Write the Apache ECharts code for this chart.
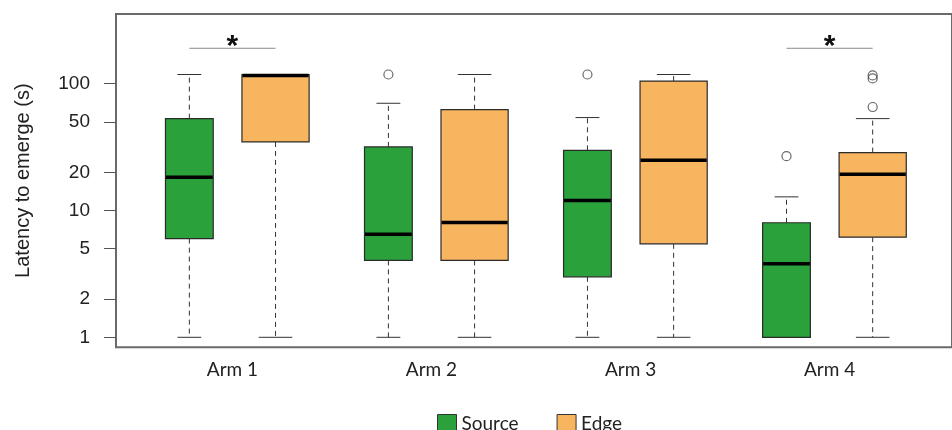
<!DOCTYPE html>
<html><head><meta charset="utf-8">
<script src="https://cdn.jsdelivr.net/npm/echarts@6/dist/echarts.min.js"></script>
<style>html,body{margin:0;padding:0;background:#fff}#c{width:952px;height:430px}</style>
</head><body><div id="c"></div>
<script>
const categories = ['Arm 1', 'Arm 2', 'Arm 3', 'Arm 4'];
const yTicks = [1, 2, 5, 10, 20, 50, 100];
// [min, Q1, median, Q3, max]
const sourceStats = [
  [1, 6.0, 18.3, 53, 118],
  [1, 4.04, 6.5, 31.7, 70],
  [1, 3.0, 12.0, 29.8, 54],
  [1, 1, 3.8, 8.0, 12.8]
];
const edgeStats = [
  [1, 34.7, 116, 118, 118],
  [1, 4.04, 8.05, 62.4, 118],
  [1, 5.46, 24.9, 104.8, 118],
  [1, 6.16, 19.3, 28.6, 53]
];
// [armIndex, value]
const sourceOutliers = [[1, 118], [2, 118], [3, 26.8]];
const edgeOutliers = [[3, 116], [3, 110], [3, 65.4]];
const sigArms = [0, 3];
const sigLevel = 190;

const OFFSET = 0.2165;
const GREEN = '#2aa13b';
const ORANGE = '#f7b55f';

function boxRender(offset, widthUnits) {
  return function (params, api) {
    const i = api.value(0);
    const x0 = api.coord([i + offset, 1])[0];
    const unit = api.coord([i + 1, 1])[0] - api.coord([i, 1])[0];
    const w = widthUnits * unit;
    const y = k => api.coord([i + offset, api.value(k)])[1];
    const yMin = y(1), yQ1 = y(2), yMed = y(3), yQ3 = y(4), yMax = y(5);
    const color = api.visual('color');
    const cap = w / 2;
    const wl = { stroke: '#333', lineWidth: 1, lineDash: [5, 4] };
    const cl = { stroke: '#333', lineWidth: 1 };
    return {
      type: 'group', children: [
        { type: 'line', shape: { x1: x0, y1: yQ3, x2: x0, y2: yMax }, style: wl },
        { type: 'line', shape: { x1: x0, y1: yQ1, x2: x0, y2: yMin }, style: wl },
        { type: 'line', shape: { x1: x0 - cap / 2, y1: yMax, x2: x0 + cap / 2, y2: yMax }, style: cl },
        { type: 'line', shape: { x1: x0 - cap / 2, y1: yMin, x2: x0 + cap / 2, y2: yMin }, style: cl },
        { type: 'rect', shape: { x: x0 - w / 2, y: yQ3, width: w, height: yQ1 - yQ3 }, style: { fill: color, stroke: '#2b2b2b', lineWidth: 1.2 } },
        { type: 'line', shape: { x1: x0 - w / 2 + 0.5, y1: yMed, x2: x0 + w / 2 - 0.5, y2: yMed }, style: { stroke: '#000', lineWidth: 3.5 } }
      ]
    };
  };
}

function sigRender(params, api) {
  const i = api.value(0);
  const v = api.value(1);
  const p1 = api.coord([i - OFFSET, v]);
  const p2 = api.coord([i + OFFSET, v]);
  return {
    type: 'group', children: [
      { type: 'line', shape: { x1: p1[0], y1: p1[1], x2: p2[0], y2: p2[1] }, style: { stroke: '#8a8a8a', lineWidth: 1 } },
      { type: 'text', style: { x: (p1[0] + p2[0]) / 2, y: p1[1] - 2, text: '*', fontSize: 30, fontWeight: 'bold', fontFamily: 'Liberation Sans', fill: '#111', align: 'center', verticalAlign: 'middle' } }
    ]
  };
}

const outlierStyle = { color: 'rgba(0,0,0,0)', borderColor: '#444', borderWidth: 1.2 };

const chart = echarts.init(document.getElementById('c'), null, { renderer: 'canvas' });
chart.setOption({
  animation: false,
  backgroundColor: '#fff',
  grid: { left: 116, top: 14, width: 840, height: 333.3, show: true, borderColor: '#6a6a6a', borderWidth: 2, backgroundColor: 'transparent' },
  legend: {
    data: ['Source', 'Edge'], left: 432, top: 409, icon: 'rect', itemWidth: 19, itemHeight: 19, itemGap: 38,
    itemStyle: { borderColor: '#333', borderWidth: 1 },
    textStyle: { fontFamily: 'Lato', fontSize: 19, color: '#222' }
  },
  xAxis: {
    type: 'value', min: -0.585, max: 3.615,
    axisLine: { show: false }, axisTick: { show: false }, splitLine: { show: false },
    axisLabel: {
      customValues: categories.map((c, i) => i), margin: 13,
      formatter: v => categories[Math.round(v)] || '',
      fontFamily: 'Lato', fontSize: 19, color: '#222'
    }
  },
  yAxis: {
    type: 'log', logBase: 10, min: 0.834, max: 354,
    axisLine: { show: true, onZero: false, lineStyle: { color: '#6a6a6a', width: 2 } },
    splitLine: { show: false }, minorTick: { show: false },
    axisTick: { show: true, length: 12, customValues: yTicks, lineStyle: { color: '#555', width: 1 } },
    axisLabel: { customValues: yTicks, margin: 26, formatter: v => String(Math.round(v)), fontFamily: 'Liberation Sans', fontSize: 19, color: '#222' },
    name: 'Latency to emerge (s)', nameLocation: 'middle', nameGap: 83, nameRotate: 90,
    nameTextStyle: { fontFamily: 'Liberation Sans', fontSize: 20, color: '#222' }
  },
  series: [
    {
      name: 'Source', type: 'custom', renderItem: boxRender(-OFFSET, 0.24),
      itemStyle: { color: GREEN, borderColor: '#333', borderWidth: 1 },
      encode: { x: 0, y: [1, 2, 3, 4, 5] },
      data: sourceStats.map((s, i) => [i].concat(s))
    },
    {
      name: 'Edge', type: 'custom', renderItem: boxRender(OFFSET, 0.3375),
      itemStyle: { color: ORANGE, borderColor: '#333', borderWidth: 1 },
      encode: { x: 0, y: [1, 2, 3, 4, 5] },
      data: edgeStats.map((s, i) => [i].concat(s))
    },
    {
      name: 'Source outliers', type: 'scatter', symbol: 'circle', symbolSize: 9, itemStyle: outlierStyle,
      data: sourceOutliers.map(([i, v]) => [i - OFFSET, v])
    },
    {
      name: 'Edge outliers', type: 'scatter', symbol: 'circle', symbolSize: 9, itemStyle: outlierStyle,
      data: edgeOutliers.map(([i, v]) => [i + OFFSET, v])
    },
    {
      name: 'sig', type: 'custom', renderItem: sigRender,
      encode: { x: 0, y: 1 },
      data: sigArms.map(i => [i, sigLevel])
    }
  ]
});
</script>
</body></html>
